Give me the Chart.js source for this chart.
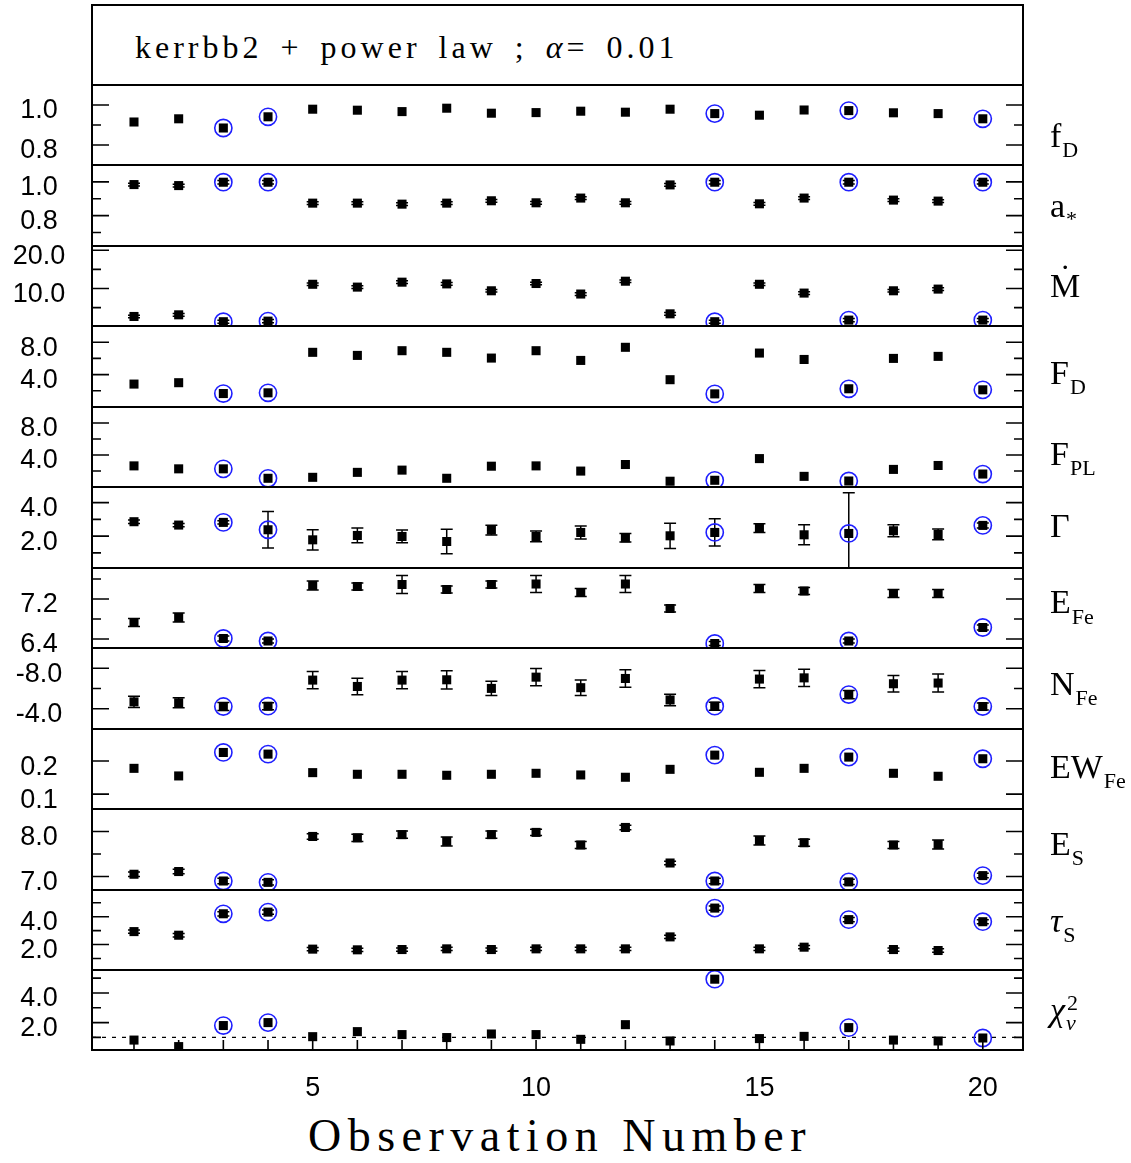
<!DOCTYPE html>
<html>
<head>
<meta charset="utf-8">
<script src="https://cdn.jsdelivr.net/npm/chart.js@4.4.1/dist/chart.umd.min.js"></script>
<style>
  html, body { margin: 0; padding: 0; background: #fff; }
  #fig { position: relative; width: 1131px; height: 1163px; overflow: hidden; }
  #fig canvas { position: absolute; left: 0; }
  #titleBox {
    position: absolute; left: 91px; top: 4px; width: 933px; height: 82px;
    box-sizing: border-box; border: 2px solid #000;
  }
  #titleText {
    position: absolute; left: 42px; top: 25px; white-space: nowrap;
    font: 32px "Liberation Serif", "Times New Roman", serif; line-height: 1;
    letter-spacing: 4px; word-spacing: 6px; color: #000;
  }
  #xTitle {
    position: absolute; left: 308px; top: 1113px; white-space: nowrap;
    font: 46px "Liberation Serif", "Times New Roman", serif; line-height: 1;
    letter-spacing: 6.5px; color: #000;
  }
</style>
</head>
<body>
<div id="fig">
  <div id="titleBox"><span id="titleText">kerrbb2 + power law ; <i>α</i>= 0.01</span></div>
  <div id="xTitle">Observation Number</div>
</div>
<script>
// ── 資料：20 次觀測的擬合參數 ─────────────────────────────
const obsNumber = [1, 2, 3, 4, 5, 6, 7, 8, 9, 10, 11, 12, 13, 14, 15, 16, 17, 18, 19, 20];
const circled   = [3, 4, 14, 17, 20];          // 藍圈標記的觀測
const xTickLabels = [5, 10, 15, 20];

const diskFraction = [0.915, 0.931, 0.885, 0.941, 0.979, 0.974, 0.967, 0.984, 0.959, 0.962,
                      0.969, 0.964, 0.979, 0.957, 0.949, 0.975, 0.972, 0.961, 0.957, 0.931];

const spin    = [0.984, 0.978, 0.998, 0.998, 0.874, 0.874, 0.868, 0.874, 0.888, 0.876,
                 0.904, 0.876, 0.982, 0.998, 0.870, 0.904, 0.998, 0.892, 0.886, 0.998];
const spinErr = [0.008, 0.008, 0.010, 0.010, 0.008, 0.008, 0.008, 0.008, 0.008, 0.008,
                 0.008, 0.008, 0.008, 0.010, 0.008, 0.008, 0.010, 0.008, 0.008, 0.010];

const mDot    = [2.69, 3.12, 1.32, 1.47, 11.1, 10.36, 11.65, 11.2, 9.4, 11.3,
                 8.55, 11.9, 3.38, 1.32, 11.1, 8.8, 1.74, 9.4, 9.84, 1.74];
const mDotErr = [0.35, 0.35, 0.4, 0.4, 0.35, 0.35, 0.35, 0.35, 0.35, 0.35,
                 0.35, 0.35, 0.35, 0.4, 0.35, 0.35, 0.4, 0.35, 0.35, 0.4];

const diskFlux = [2.83, 3.0, 1.66, 1.75, 6.75, 6.37, 6.95, 6.75, 6.04, 6.95,
                  5.75, 7.37, 3.37, 1.62, 6.66, 5.87, 2.25, 6.0, 6.25, 2.12];

const plFlux   = [2.64, 2.27, 2.27, 1.09, 1.21, 1.83, 2.11, 1.09, 2.6, 2.64,
                  1.99, 2.81, 0.72, 0.84, 3.55, 1.33, 0.75, 2.2, 2.69, 1.62];

const gamma    = [2.86, 2.66, 2.82, 2.38, 1.78, 2.04, 1.98, 1.68, 2.36, 1.98,
                  2.22, 1.9, 2.02, 2.22, 2.48, 2.08, 2.16, 2.32, 2.1, 2.64];
const gammaErr = [0.1, 0.1, 0.1, 1.09, 0.6, 0.44, 0.38, 0.73, 0.29, 0.32,
                  0.39, 0.25, 0.75, 0.81, 0.26, 0.6, 2.42, 0.36, 0.32, 0.15];

const eFe      = [6.73, 6.83, 6.41, 6.36, 7.47, 7.45, 7.49, 7.39, 7.49, 7.5,
                  7.33, 7.5, 7.01, 6.31, 7.41, 7.36, 6.36, 7.31, 7.31, 6.63];
const eFeErr   = [0.08, 0.09, 0.05, 0.04, 0.09, 0.07, 0.18, 0.07, 0.07, 0.17,
                  0.08, 0.17, 0.07, 0.04, 0.08, 0.07, 0.04, 0.08, 0.08, 0.05];

const nFe      = [-4.68, -4.59, -4.22, -4.25, -6.83, -6.2, -6.83, -6.86, -6.01, -7.12,
                  -6.08, -6.99, -4.87, -4.25, -6.93, -7.05, -5.4, -6.47, -6.54, -4.22];
const nFeErr   = [0.55, 0.5, 0.4, 0.35, 0.86, 0.81, 0.85, 0.9, 0.7, 0.86,
                  0.76, 0.86, 0.57, 0.4, 0.86, 0.85, 0.4, 0.81, 0.89, 0.35];

const ewFe     = [0.178, 0.155, 0.226, 0.221, 0.165, 0.16, 0.16, 0.157, 0.16, 0.163,
                  0.158, 0.151, 0.175, 0.218, 0.166, 0.178, 0.212, 0.163, 0.154, 0.207];

const eS       = [7.05, 7.11, 6.9, 6.87, 7.89, 7.86, 7.93, 7.78, 7.93, 7.98,
                  7.7, 8.09, 7.3, 6.9, 7.8, 7.75, 6.88, 7.7, 7.71, 7.02];
const eSErr    = [0.05, 0.05, 0.06, 0.06, 0.06, 0.08, 0.08, 0.1, 0.08, 0.07,
                  0.08, 0.05, 0.04, 0.06, 0.1, 0.08, 0.06, 0.08, 0.1, 0.05];

const tauS     = [2.93, 2.67, 4.21, 4.33, 1.67, 1.62, 1.64, 1.69, 1.64, 1.69,
                  1.69, 1.69, 2.55, 4.62, 1.69, 1.81, 3.79, 1.64, 1.57, 3.64];
const tauSErr  = [0.12, 0.12, 0.15, 0.15, 0.12, 0.12, 0.12, 0.12, 0.12, 0.12,
                  0.12, 0.12, 0.12, 0.15, 0.12, 0.12, 0.15, 0.12, 0.12, 0.15];

const chi2     = [0.82, 0.38, 1.8, 2.0, 1.05, 1.39, 1.19, 0.99, 1.23, 1.19,
                  0.87, 1.86, 0.76, 4.93, 0.92, 1.07, 1.66, 0.82, 0.76, 0.96];

// 各面板 y 軸刻度（有標籤的長刻度 / 無標籤的短刻度）
const fracTicks = [0.8, 1.0],  fracMinor = [0.9];
const spinTicks = [0.8, 1.0],  spinMinor = [0.7, 0.9];
const mDotTicks = [10, 20],    mDotMinor = [5, 15];
const fluxTicks = [4, 8],      fluxMinor = [2, 6];
const gammaTicks = [2, 4],     gammaMinor = [1, 3];
const eFeTicks = [6.4, 7.2],   eFeMinor = [6.8, 7.6];
const nFeTicks = [-8, -4],     nFeMinor = [-6];
const ewTicks = [0.1, 0.2],    ewMinor = [];
const eSTicks = [7, 8],        eSMinor = [7.5];
const tauTicks = [2, 4],       tauMinor = [1, 3, 5];
const chiTicks = [2, 4],       chiMinor = [1, 3, 5];

// ── 版面 ─────────────────────────────────────────────────────
const PAD = 20;
const PANEL_TOP = 85, PANEL_H = 80.45;
const LEFT = 92, RIGHT = 1023, WIDTH = 1131;
const X_MIN = 0.06, X_MAX = 20.9;
const BLUE = '#1f1fff';
const SANS = '"Liberation Sans", Arial, sans-serif';
const SERIF = '"Liberation Serif", "Times New Roman", serif';

const panels = [
  { values: diskFraction, errors: null, min: 0.7, max: 1.1, major: fracTicks, minor: fracMinor,
    label: { text: 'f', sub: 'D' }, base: 62 },
  { values: spin, errors: spinErr, min: 0.62, max: 1.1, major: spinTicks, minor: spinMinor,
    label: { text: 'a', sub: '*', subDy: 9 }, base: 52 },
  { values: mDot, errors: mDotErr, min: 0.2, max: 21.1, major: mDotTicks, minor: mDotMinor,
    label: { text: 'M', dot: true }, base: 51 },
  { values: diskFlux, errors: null, min: 0, max: 10, major: fluxTicks, minor: fluxMinor,
    label: { text: 'F', sub: 'D' }, base: 58 },
  { values: plFlux, errors: null, min: 0, max: 10, major: fluxTicks, minor: fluxMinor,
    label: { text: 'F', sub: 'PL' }, base: 58 },
  { values: gamma, errors: gammaErr, min: 0.1, max: 4.93, major: gammaTicks, minor: gammaMinor,
    label: { text: 'Γ' }, base: 50 },
  { values: eFe, errors: eFeErr, min: 6.22, max: 7.82, major: eFeTicks, minor: eFeMinor,
    label: { text: 'E', sub: 'Fe', subDy: 11 }, base: 45 },
  { values: nFe, errors: nFeErr, min: -10, max: -2, reverse: true, major: nFeTicks, minor: nFeMinor,
    label: { text: 'N', sub: 'Fe' }, base: 47 },
  { values: ewFe, errors: null, min: 0.055, max: 0.297, major: ewTicks, minor: ewMinor,
    label: { text: 'EW', sub: 'Fe' }, base: 49 },
  { values: eS, errors: eSErr, min: 6.7, max: 8.5, major: eSTicks, minor: eSMinor,
    label: { text: 'E', sub: 'S' }, base: 46 },
  { values: tauS, errors: tauSErr, min: 0.17, max: 5.92, major: tauTicks, minor: tauMinor,
    label: { text: 'τ', italic: true, sub: 'S' }, base: 42 },
  { values: chi2, errors: null, min: 0.15, max: 5.55, major: chiTicks, minor: chiMinor,
    label: { text: 'χ', italic: true, sup: '2', sub: 'ν', subItalic: true, subDy: 9 }, base: 51,
    refLine: 1 }
];

// ── 面板外框、內向刻度、標籤、誤差棒 ───────────────────────────
function drawLabel(ctx, lab, y) {
  const x = 1050;
  ctx.fillStyle = '#000';
  ctx.textAlign = 'left';
  ctx.textBaseline = 'alphabetic';
  ctx.font = (lab.italic ? 'italic ' : '') + '34px ' + SERIF;
  ctx.fillText(lab.text, x, y);
  const w = ctx.measureText(lab.text).width;
  if (lab.dot) {
    ctx.textAlign = 'center';
    ctx.fillText('\u02D9', x + w / 2, y - 9);
    ctx.textAlign = 'left';
  }
  if (lab.sub) {
    ctx.font = (lab.subItalic ? 'italic ' : '') + '22px ' + SERIF;
    ctx.fillText(lab.sub, x + w + 1, y + (lab.subDy || 10));
  }
  if (lab.sup) {
    ctx.font = '22px ' + SERIF;
    ctx.fillText(lab.sup, x + w + 2, y - 11);
  }
}

function panelPlugin(p, isLast) {
  return {
    id: 'panelFrame',
    beforeDatasetsDraw(chart) {
      if (!p.errors) return;
      const { ctx, chartArea: a, scales: { x, y } } = chart;
      ctx.save();
      ctx.beginPath();
      ctx.rect(a.left, a.top, a.right - a.left, a.bottom - a.top);
      ctx.clip();
      ctx.strokeStyle = '#000';
      ctx.lineWidth = 1.5;
      obsNumber.forEach((n, i) => {
        const e = p.errors[i];
        if (!e) return;
        const px = x.getPixelForValue(n);
        const y1 = y.getPixelForValue(p.values[i] - e);
        const y2 = y.getPixelForValue(p.values[i] + e);
        ctx.beginPath();
        ctx.moveTo(px, y1); ctx.lineTo(px, y2);
        ctx.moveTo(px - 6, y1); ctx.lineTo(px + 6, y1);
        ctx.moveTo(px - 6, y2); ctx.lineTo(px + 6, y2);
        ctx.stroke();
      });
      ctx.restore();
    },
    afterDraw(chart) {
      const { ctx, chartArea: a, scales: { x, y } } = chart;
      ctx.save();
      ctx.strokeStyle = '#000';
      ctx.lineWidth = 1.6;
      ctx.beginPath();
      const ticks = [...p.major.map(v => [v, 17]), ...p.minor.map(v => [v, 9])];
      ticks.forEach(([v, len]) => {
        const py = y.getPixelForValue(v);
        ctx.moveTo(a.left, py);  ctx.lineTo(a.left + len, py);
        ctx.moveTo(a.right, py); ctx.lineTo(a.right - len, py);
      });
      if (isLast) {
        obsNumber.forEach(n => {
          const px = x.getPixelForValue(n);
          ctx.moveTo(px, a.bottom); ctx.lineTo(px, a.bottom - 10);
        });
      }
      ctx.stroke();

      ctx.lineWidth = 2;
      ctx.strokeRect(a.left, a.top, a.right - a.left, a.bottom - a.top);

      // y 軸數字：以 x≈39 置中，略低於刻度
      ctx.fillStyle = '#000';
      ctx.font = '27px ' + SANS;
      ctx.textAlign = 'center';
      ctx.textBaseline = 'middle';
      y.ticks.forEach(t => {
        ctx.fillText(t.label, 39, y.getPixelForValue(t.value) + 6);
      });

      drawLabel(ctx, p.label, a.top + p.base);
      ctx.restore();
    }
  };
}

// ── 建立 12 個面板 ───────────────────────────────────────────
const fig = document.getElementById('fig');
const tops = [];
for (let i = 0; i <= panels.length; i++) tops.push(Math.round(PANEL_TOP + PANEL_H * i));

panels.forEach((p, i) => {
  const isLast = i === panels.length - 1;
  const h = tops[i + 1] - tops[i];
  const axisH = 62;
  const canvas = document.createElement('canvas');
  canvas.width = WIDTH;
  canvas.height = PAD + h + (isLast ? axisH : PAD);
  canvas.style.top = (tops[i] - PAD) + 'px';
  fig.appendChild(canvas);

  const points = obsNumber.map((n, k) => ({ x: n, y: p.values[k] }));
  const rings = circled.map(n => ({ x: n, y: p.values[n - 1] }));

  const datasets = [
    {
      data: points,
      pointStyle: 'rect',
      pointRadius: 6.4,
      pointBackgroundColor: '#000',
      pointBorderWidth: 0,
      clip: 0
    },
    {
      data: rings,
      pointStyle: 'circle',
      pointRadius: 8.6,
      pointBackgroundColor: 'rgba(0,0,0,0)',
      pointBorderColor: BLUE,
      pointBorderWidth: 1.6,
      clip: 0
    }
  ];
  if (p.refLine !== undefined) {
    datasets.push({
      data: [{ x: X_MIN, y: p.refLine }, { x: X_MAX, y: p.refLine }],
      showLine: true,
      borderColor: '#000',
      borderWidth: 1.4,
      borderDash: [4, 6],
      pointRadius: 0,
      clip: 0
    });
  }

  new Chart(canvas, {
    type: 'scatter',
    data: { datasets },
    options: {
      responsive: false,
      animation: false,
      devicePixelRatio: 1,
      events: [],
      layout: { padding: { top: PAD, bottom: isLast ? 0 : PAD, left: 0, right: WIDTH - RIGHT } },
      plugins: { legend: { display: false }, tooltip: { enabled: false } },
      scales: {
        x: {
          type: 'linear',
          min: X_MIN,
          max: X_MAX,
          display: isLast,
          grid: { display: false },
          border: { display: false },
          afterBuildTicks: s => { s.ticks = xTickLabels.map(v => ({ value: v })); },
          afterFit: s => { s.height = isLast ? axisH : 0; },
          ticks: {
            color: '#000',
            font: { family: SANS, size: 27 },
            padding: 14,
            maxRotation: 0,
            autoSkip: false
          }
        },
        y: {
          type: 'linear',
          min: p.min,
          max: p.max,
          reverse: !!p.reverse,
          grid: { display: false },
          border: { display: false },
          afterBuildTicks: s => { s.ticks = p.major.map(v => ({ value: v })); },
          afterFit: s => { s.width = LEFT; },
          ticks: { display: false, callback: v => Number(v).toFixed(1) }
        }
      }
    },
    plugins: [panelPlugin(p, isLast)]
  });
});
</script>
</body>
</html>
